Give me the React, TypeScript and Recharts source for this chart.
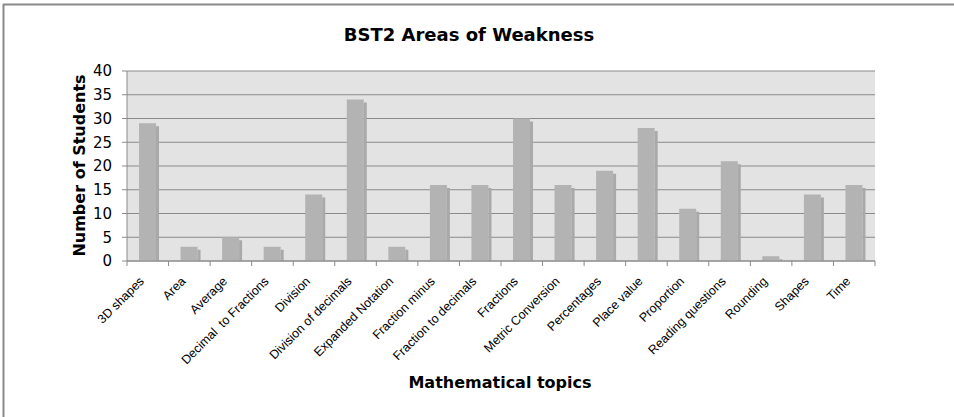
import React from 'react'
import { BarChart, Bar, XAxis, YAxis, CartesianGrid } from 'recharts'

const topics = [
  '3D shapes',
  'Area',
  'Average',
  'Decimal  to Fractions',
  'Division',
  'Division of decimals',
  'Expanded Notation',
  'Fraction minus',
  'Fraction to decimals',
  'Fractions',
  'Metric Conversion',
  'Percentages',
  'Place value',
  'Proportion',
  'Reading questions',
  'Rounding',
  'Shapes',
  'Time',
]
const studentCounts = [29, 3, 5, 3, 14, 34, 3, 16, 16, 30, 16, 19, 28, 11, 21, 1, 14, 16]
const yTicks = [0, 5, 10, 15, 20, 25, 30, 35, 40]

const data = topics.map((topic, i) => ({ topic, students: studentCounts[i] }))

const W = 954
const H = 417
const M = { top: 71, right: 79, left: 0, bottom: 0 }
const Y_AXIS_W = 127
const X_AXIS_H = 156
const AXIS_Y = H - X_AXIS_H
const BAND = (W - Y_AXIS_W - M.right) / topics.length

const AXIS_COLOR = '#8a8a8a'

function TopicTick(props: any) {
  const { x, payload, index } = props
  const ax = x - 3
  const ay = AXIS_Y + 21
  return (
    <g>
      {index === 0 && (
        <line x1={x - BAND / 2} x2={x - BAND / 2} y1={AXIS_Y} y2={AXIS_Y + 5} stroke={AXIS_COLOR} />
      )}
      <line x1={x + BAND / 2} x2={x + BAND / 2} y1={AXIS_Y} y2={AXIS_Y + 5} stroke={AXIS_COLOR} />
      <text
        x={ax}
        y={ay}
        transform={`rotate(-45, ${ax}, ${ay})`}
        textAnchor="end"
        fontSize={12.5}
        fontFamily="'Liberation Sans', Arial, sans-serif"
        fill="#000"
        style={{ whiteSpace: 'pre' }}
      >
        {payload.value}
      </text>
    </g>
  )
}

// flat bar with a small offset sliver on the right, like the old Excel look
function ShadedBar(props: any) {
  const { x, y, width, height } = props
  if (!height) return null
  return (
    <g>
      <rect x={x} y={y} width={width} height={height} fill="#b3b3b3" />
      <rect x={x + width} y={y + 3} width={3} height={Math.max(height - 3, 0)} fill="#a9a9a9" />
    </g>
  )
}

export default function App() {
  return (
    <div style={{ position: 'absolute', left: 0, top: 0, width: W, height: H, background: '#fff' }}>
      <BarChart width={W} height={H} data={data} margin={M} barSize={17}>
        <CartesianGrid vertical={false} stroke={AXIS_COLOR} fill="#e3e3e3" />
        <XAxis
          dataKey="topic"
          interval={0}
          height={X_AXIS_H}
          tickLine={false}
          axisLine={{ stroke: AXIS_COLOR }}
          tick={<TopicTick />}
        />
        <YAxis
          width={Y_AXIS_W}
          domain={[0, 40]}
          ticks={yTicks}
          interval={0}
          tickSize={5}
          tickMargin={10}
          axisLine={{ stroke: AXIS_COLOR }}
          tickLine={{ stroke: AXIS_COLOR }}
          tick={{ fill: '#000', fontSize: 15, fontFamily: "'DejaVu Sans', Verdana, sans-serif" }}
        />
        <YAxis
          yAxisId="right"
          orientation="right"
          width={0}
          domain={[0, 40]}
          tick={false}
          tickLine={false}
          axisLine={{ stroke: '#999' }}
        />
        <Bar dataKey="students" shape={<ShadedBar />} isAnimationActive={false} />
      </BarChart>
      <svg
        width={W}
        height={H}
        style={{ position: 'absolute', left: 0, top: 0, pointerEvents: 'none' }}
      >
        <line x1={3} x2={W} y1={4.5} y2={4.5} stroke="#8a8a8a" strokeWidth={2} />
        <line x1={3.5} x2={3.5} y1={4} y2={H} stroke="#8a8a8a" strokeWidth={2} />
        <text
          x={469}
          y={40.5}
          textAnchor="middle"
          fontSize={18}
          fontWeight="bold"
          fontFamily="'DejaVu Sans', Verdana, sans-serif"
          fill="#000"
        >
          BST2 Areas of Weakness
        </text>
        <text
          x={500}
          y={388}
          textAnchor="middle"
          fontSize={16}
          fontWeight="bold"
          fontFamily="'DejaVu Sans', Verdana, sans-serif"
          fill="#000"
        >
          Mathematical topics
        </text>
        <text
          x={85}
          y={165.5}
          transform="rotate(-90, 85, 165.5)"
          textAnchor="middle"
          fontSize={16}
          fontWeight="bold"
          fontFamily="'DejaVu Sans', Verdana, sans-serif"
          fill="#000"
        >
          Number of Students
        </text>
      </svg>
    </div>
  )
}
